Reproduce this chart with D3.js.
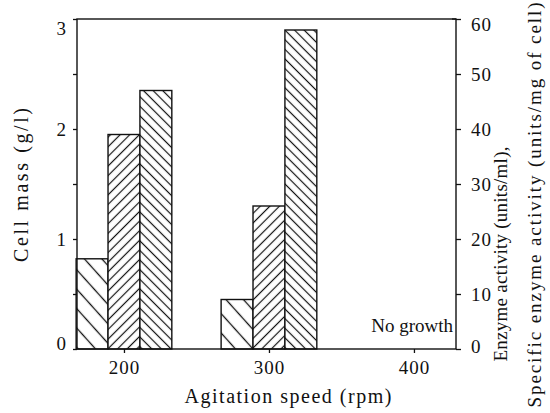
<!DOCTYPE html>
<html><head><meta charset="utf-8">
<script src="https://cdn.jsdelivr.net/npm/d3@7"></script>
<style>
html,body{margin:0;padding:0;background:#fff;}
svg text{font-family:"Liberation Serif","Times New Roman",Tinos,Times,"DejaVu Serif","Noto Serif",serif;fill:#111;}
</style></head>
<body><svg id="c" width="550" height="413"></svg>
<script>
// ---- data ----
const speeds = [200, 300, 400];
const cellMass = [0.82, 0.45, null];          // g/l (left axis)
const enzymeActivity = [39, 26, null];        // units/ml (right axis)
const specificActivity = [47, 58, null];      // units/mg of cell (right axis)
const xTicks = [200, 300, 400];
const leftTicks = [0, 0.5, 1, 1.5, 2, 2.5, 3];
const rightTicks = [0, 10, 20, 30, 40, 50, 60];
const noGrowthLabel = "No growth";

const svg = d3.select("#c");
const L = 77, R = 456, T = 19, B = 349;
const x = d3.scaleLinear().domain([167.6, 429]).range([L, R]);
const yL = d3.scaleLinear().domain([0, 3]).range([B, T]);
const yR = d3.scaleLinear().domain([0, 60]).range([B, T]);
const barW = 22; // rpm

// patterns
const defs = svg.append("defs");
function hatch(id, spacing, angle, sw) {
  const p = defs.append("pattern").attr("id", id).attr("patternUnits", "userSpaceOnUse")
    .attr("width", spacing).attr("height", spacing)
    .attr("patternTransform", `rotate(${angle})`);
  p.append("rect").attr("width", spacing).attr("height", spacing).attr("fill", "#fff");
  p.append("line").attr("x1", spacing/2).attr("x2", spacing/2).attr("y1", -1).attr("y2", spacing+1)
    .attr("stroke", "#111").attr("stroke-width", sw);
}
hatch("h1", 13, -42, 1.3);
hatch("h2", 6.8, 45, 1.2);
hatch("h3", 6.8, -45, 1.2);

const series = [
  {vals: cellMass, y: yL, off: -1, pat: "h1"},
  {vals: enzymeActivity, y: yR, off: 0, pat: "h2"},
  {vals: specificActivity, y: yR, off: 1, pat: "h3"}
];
series.forEach(s => {
  svg.append("g").selectAll("rect")
    .data(speeds.map((sp, i) => ({sp, v: s.vals[i]})).filter(d => d.v != null))
    .join("rect")
    .attr("x", d => x(d.sp + s.off*barW - barW/2))
    .attr("width", d => x(d.sp + barW/2) - x(d.sp - barW/2))
    .attr("y", d => s.y(d.v))
    .attr("height", d => B - s.y(d.v))
    .attr("fill", `url(#${s.pat})`)
    .attr("stroke", "#111").attr("stroke-width", 1.4);
});

// frame
svg.append("rect").attr("x", L).attr("y", T).attr("width", R-L).attr("height", B-T)
  .attr("fill", "none").attr("stroke", "#111").attr("stroke-width", 1.4);

// axes
const fs = 19;
const gl = svg.append("g").attr("transform", `translate(${L},0)`)
  .call(d3.axisLeft(yL).tickValues(leftTicks).tickSize(4).tickPadding(6)
    .tickFormat(d => Number.isInteger(d) ? d : ""));
const gr = svg.append("g").attr("transform", `translate(${R},0)`)
  .call(d3.axisRight(yR).tickValues(rightTicks).tickSize(5).tickPadding(10).tickFormat(d3.format("d")));
const gx = svg.append("g").attr("transform", `translate(0,${B})`)
  .call(d3.axisBottom(x).tickValues(xTicks).tickSize(4).tickPadding(8).tickFormat(d3.format("d")));
[gl, gr, gx].forEach(g => {
  g.attr("font-family", null).attr("font-size", null);
  g.select(".domain").remove();
  g.selectAll("line").attr("stroke", "#111").attr("stroke-width", 1.3);
  g.selectAll("text").attr("font-size", fs).attr("fill", "#111").style("letter-spacing", "1px");
});
gl.selectAll(".tick text").attr("dy", d => d === 3 ? "0.8em" : d === 0 ? "0.05em" : "0.32em");
gr.selectAll(".tick text").attr("dy", d => d === 60 ? "0.6em" : d === 0 ? "0.2em" : "0.32em");
svg.append("line").attr("x1", R-4).attr("x2", R).attr("y1", T).attr("y2", T).attr("stroke", "#111").attr("stroke-width", 1.3);

// No growth
svg.append("text").attr("x", 453).attr("y", 332).attr("text-anchor", "end")
  .attr("font-size", 19).text(noGrowthLabel);

// axis titles
svg.append("text").attr("x", 288).attr("y", 403).attr("text-anchor", "middle")
  .attr("font-size", 20).attr("textLength", 207).attr("lengthAdjust", "spacing").text("Agitation speed (rpm)");
svg.append("text").attr("transform", "translate(28,185) rotate(-90)").attr("text-anchor", "middle")
  .attr("font-size", 20).attr("textLength", 154).attr("lengthAdjust", "spacing").text("Cell mass (g/l)");
svg.append("text").attr("transform", "translate(507,254) rotate(-90)").attr("text-anchor", "middle")
  .attr("font-size", 19).attr("textLength", 215).attr("lengthAdjust", "spacing").text("Enzyme activity (units/ml),");
svg.append("text").attr("transform", "translate(541,205) rotate(-90)").attr("text-anchor", "middle")
  .attr("font-size", 19).attr("textLength", 405).attr("lengthAdjust", "spacing").text("Specific enzyme activity (units/mg of cell)");
</script></body></html>
